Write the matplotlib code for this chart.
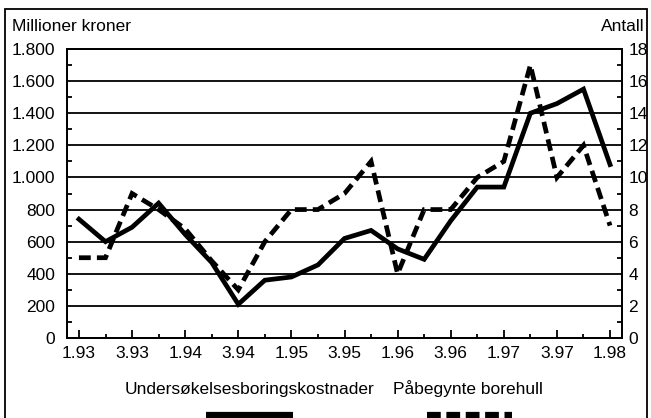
import matplotlib
matplotlib.use("Agg")
import matplotlib.pyplot as plt
from matplotlib.lines import Line2D
from matplotlib.patches import Rectangle

# ---- data ----
quarters = ["1.93", "2.93", "3.93", "4.93", "1.94", "2.94", "3.94", "4.94",
            "1.95", "2.95", "3.95", "4.95", "1.96", "2.96", "3.96", "4.96",
            "1.97", "2.97", "3.97", "4.97", "1.98"]
cost = [740, 600, 690, 840, 645, 470, 210, 360, 380, 455, 620, 670,
        555, 490, 730, 940, 940, 1400, 1460, 1550, 1080]          # Millioner kroner
wells = [5, 5, 9, 8, 6.8, 4.8, 3, 6, 8, 8, 9, 11,
         4, 8, 8, 10, 11, 17, 10, 12, 7]                         # Antall
left_ticks = [0, 200, 400, 600, 800, 1000, 1200, 1400, 1600, 1800]
right_ticks = [0, 2, 4, 6, 8, 10, 12, 14, 16, 18]
series_names = ["Undersøkelsesboringskostnader", "Påbegynte borehull"]

plt.rcParams['font.family'] = ['Liberation Sans', 'DejaVu Sans']
plt.rcParams['font.size'] = 12.5

W, H = 651, 418
fig = plt.figure(figsize=(W / 100, H / 100), dpi=100)
fig.patch.set_facecolor('white')

L, R, T, B = 67, 622, 49, 338
ax = fig.add_axes([L / W, 1 - B / H, (R - L) / W, (B - T) / H])
ax2 = ax.twinx()

x = list(range(len(quarters)))
ax.plot(x, cost, color='black', lw=3.4, solid_joinstyle='miter', zorder=3)
ax2.plot(x, wells, color='black', lw=3.4, linestyle=(0, (2.5, 1.3)),
         dash_capstyle='butt', dash_joinstyle='miter', zorder=3)

ax.set_xlim(-0.45, len(quarters) - 1 + 0.45)
ax.set_ylim(0, 1800)
ax2.set_ylim(0, 18)

ax.set_xticks(x[::2])
ax.set_xticklabels(quarters[::2])
ax.set_xticks(x[1::2], minor=True)

ax.set_yticks(left_ticks)
ax.set_yticklabels([f"{v:,}".replace(",", ".") for v in left_ticks])
ax.set_yticks([v + 100 for v in left_ticks[:-1]], minor=True)

ax2.set_yticks(right_ticks)
ax2.set_yticklabels([str(v) for v in right_ticks])
ax2.set_yticks([v + 1 for v in right_ticks[:-1]], minor=True)

ax.set_axisbelow(True)
ax.grid(axis='y', which='major', color='black', lw=1.3)

ax.tick_params(axis='x', which='major', direction='in', length=6, width=1.3, pad=5.5)
ax.tick_params(axis='x', which='minor', direction='in', length=3, width=1.3)
ax.tick_params(axis='y', which='major', direction='in', length=0, pad=8.5)
ax.tick_params(axis='y', which='minor', direction='in', length=3.5, width=1.3)
ax2.tick_params(axis='y', which='major', direction='in', length=0, pad=4.5)
ax2.tick_params(axis='y', which='minor', direction='in', length=3.5, width=1.3)

for a in (ax, ax2):
    for s in a.spines.values():
        s.set_linewidth(1.3)
        s.set_color('black')

fig.text(12 / W, 1 - 31 / H, "Millioner kroner", ha='left', va='baseline')
fig.text(645 / W, 1 - 31 / H, "Antall", ha='right', va='baseline')

# legend
fig.text(249 / W, 1 - 394 / H, series_names[0], ha='center', va='baseline')
fig.text(468 / W, 1 - 394 / H, series_names[1], ha='center', va='baseline')
fig.add_artist(Line2D([206 / W, 293 / W], [1 - 415 / H] * 2, color='black', lw=4.5,
                      solid_capstyle='butt', transform=fig.transFigure))
fig.add_artist(Line2D([427 / W, 512 / W], [1 - 415 / H] * 2, color='black', lw=4.5,
                      linestyle=(0, (2.2, 0.9)), dash_capstyle='butt',
                      transform=fig.transFigure))

# outer frame
fig.add_artist(Rectangle((5 / W, -0.1), (647 - 5) / W, (1 - 9 / H) + 0.1,
                         transform=fig.transFigure, fill=False, lw=1.3, ec='black'))

fig.savefig("out.png", dpi=100)
